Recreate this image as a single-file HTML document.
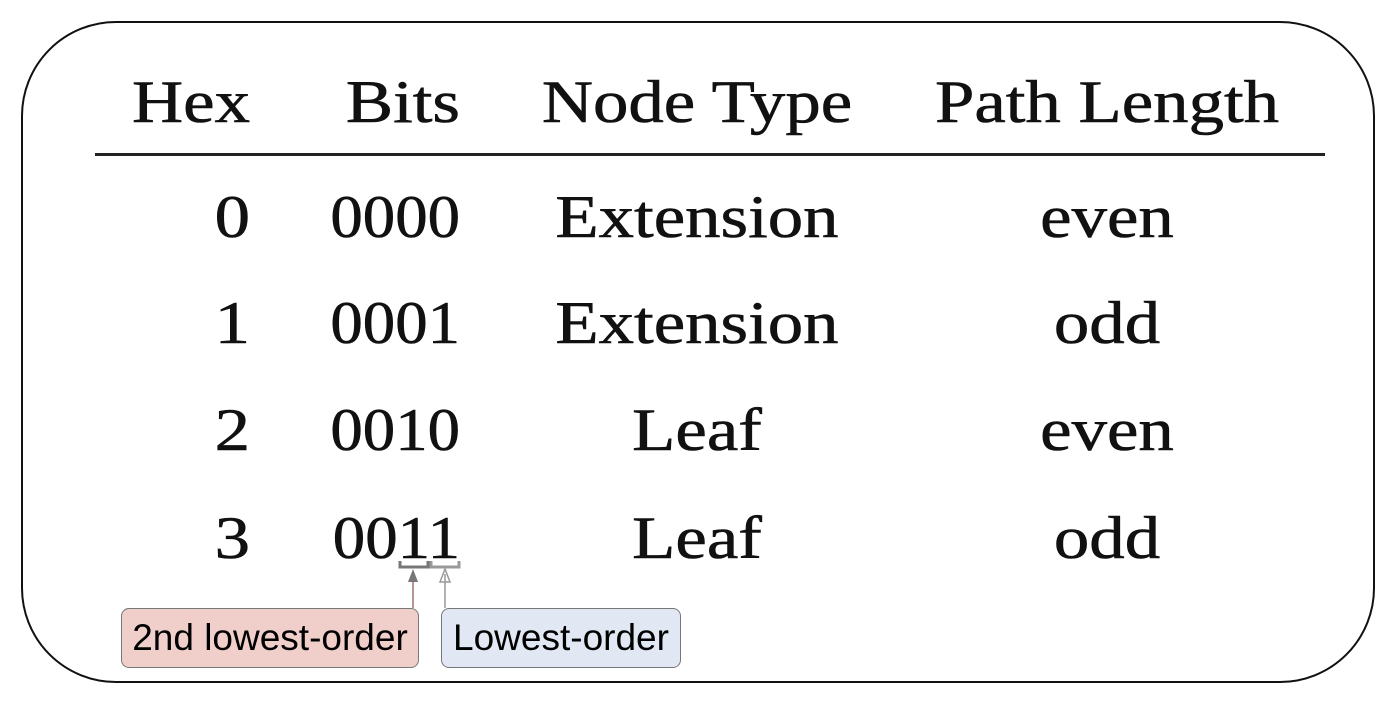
<!DOCTYPE html>
<html><head><meta charset="utf-8">
<style>
html,body{margin:0;padding:0;background:#fff;}
body{width:1400px;height:709px;position:relative;overflow:hidden;font-family:"Liberation Serif",serif;color:#111;}
#frame{position:absolute;left:21px;top:21px;width:1354px;height:662px;border:2.5px solid #111;border-radius:95px;box-sizing:border-box;}
.t{position:absolute;font-size:60px;line-height:1;white-space:nowrap;-webkit-text-stroke:0.6px #111;}
.r{text-align:right;transform:scaleX(1.18);transform-origin:right center;}
.b{transform:scaleX(1.08);}
.c{text-align:center;transform:scaleX(1.18);transform-origin:center center;}
#rule{position:absolute;left:95px;top:153px;width:1230px;height:3px;background:#222;}
.box{position:absolute;height:60px;border:1.5px solid #777;border-radius:8px;box-sizing:border-box;font-family:"Liberation Sans",sans-serif;font-size:37px;line-height:57px;text-align:center;color:#000;white-space:nowrap;}
</style></head><body>
<div id="frame"></div>

<div class="t r" style="left:100px;width:150px;top:72px">Hex</div>
<div class="t r" style="left:300px;width:160px;top:72px">Bits</div>
<div class="t c" style="left:497px;width:400px;top:72px">Node Type</div>
<div class="t c" style="left:907px;width:400px;top:72px">Path Length</div>
<div id="rule"></div>

<div class="t r" style="left:100px;width:150px;top:187px">0</div>
<div class="t r b" style="left:300px;width:160px;top:187px">0000</div>
<div class="t c" style="left:497px;width:400px;top:187px">Extension</div>
<div class="t c" style="left:907px;width:400px;top:187px">even</div>

<div class="t r" style="left:100px;width:150px;top:293px">1</div>
<div class="t r b" style="left:300px;width:160px;top:293px">0001</div>
<div class="t c" style="left:497px;width:400px;top:293px">Extension</div>
<div class="t c" style="left:907px;width:400px;top:293px">odd</div>

<div class="t r" style="left:100px;width:150px;top:400px">2</div>
<div class="t r b" style="left:300px;width:160px;top:400px">0010</div>
<div class="t c" style="left:497px;width:400px;top:400px">Leaf</div>
<div class="t c" style="left:907px;width:400px;top:400px">even</div>

<div class="t r" style="left:100px;width:150px;top:508px">3</div>
<div class="t r b" style="left:300px;width:160px;top:508px">0011</div>
<div class="t c" style="left:497px;width:400px;top:508px">Leaf</div>
<div class="t c" style="left:907px;width:400px;top:508px">odd</div>

<svg style="position:absolute;left:0;top:0" width="1400" height="709">
  <g stroke="#777" stroke-width="3" fill="none">
    <path d="M400 561 V567 H428 V561"/>
  </g>
  <g stroke="#999" stroke-width="3" fill="none">
    <path d="M431 561 V567 H459 V561"/>
  </g>
  <line x1="413" y1="608" x2="413" y2="574" stroke="#a07070" stroke-width="1.5"/>
  <polygon points="413,569 408,582 418,582" fill="#777"/>
  <line x1="445" y1="608" x2="445" y2="574" stroke="#999" stroke-width="1.5"/>
  <polygon points="445,569 440,582 450,582" fill="none" stroke="#999" stroke-width="1.5"/>
</svg>

<div class="box" style="left:121px;top:608px;width:298px;background:#f0cfcb;">2nd lowest-order</div>
<div class="box" style="left:441px;top:608px;width:240px;background:#e1e8f3;">Lowest-order</div>
</body></html>
